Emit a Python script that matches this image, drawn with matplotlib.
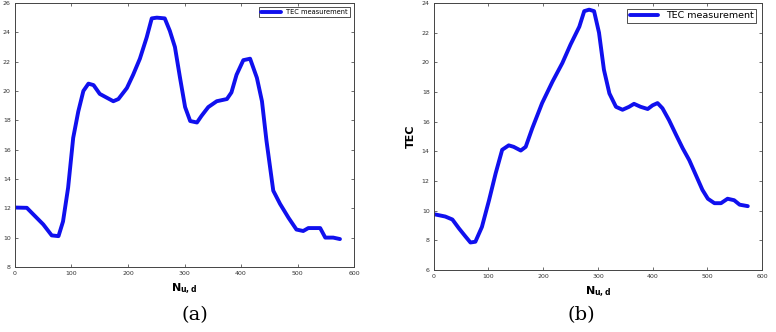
import numpy as np
import matplotlib.pyplot as plt

# (a) TEC curve
xa = [0, 21, 32, 50, 65, 77, 85, 94, 103, 112, 121, 130, 139, 150, 162, 174, 183, 198, 209, 221,
      233, 242, 251, 265, 274, 283, 292, 301, 310, 322, 330, 342, 357, 375, 383, 392, 404, 416,
      428, 437, 445, 457, 469, 484, 498, 510, 519, 540, 549, 563, 575]
ya = [12.05, 12.03, 11.6, 10.9, 10.15, 10.1, 11.1, 13.4, 16.8, 18.6, 20.0, 20.5, 20.4, 19.8, 19.55,
      19.3, 19.45, 20.2, 21.1, 22.2, 23.65, 24.95, 25.0, 24.95, 24.1, 23.0, 20.9, 18.9, 17.95, 17.85,
      18.3, 18.9, 19.3, 19.45, 19.9, 21.1, 22.1, 22.2, 20.9, 19.3, 16.6, 13.2, 12.3, 11.35, 10.55,
      10.45, 10.65, 10.65, 10.0, 10.0, 9.9]

# (b) TEC curve
xb = [0, 21, 34, 46, 58, 67, 76, 88, 101, 113, 125, 137, 146, 159, 168, 180, 198, 217, 235, 250,
      266, 275, 284, 293, 302, 311, 321, 333, 345, 357, 366, 378, 391, 400, 409, 418, 430, 443,
      455, 467, 479, 491, 501, 513, 525, 537, 549, 559, 574]
yb = [9.76, 9.6, 9.4, 8.8, 8.25, 7.85, 7.9, 8.9, 10.7, 12.5, 14.1, 14.4, 14.3, 14.05, 14.3, 15.55,
      17.25, 18.7, 19.95, 21.2, 22.4, 23.45, 23.55, 23.45, 22.0, 19.5, 17.9, 17.0, 16.8, 17.0, 17.2,
      17.0, 16.85, 17.1, 17.25, 16.9, 16.1, 15.1, 14.2, 13.4, 12.4, 11.4, 10.8, 10.5, 10.5, 10.8,
      10.7, 10.4, 10.3]

fig = plt.figure(figsize=(7.76, 3.32), dpi=100)
ax1 = fig.add_axes([0.0193, 0.196, 0.437, 0.795])
ax2 = fig.add_axes([0.559, 0.187, 0.423, 0.804])

def style(ax, ylo, yhi, legsize):
    ax.set_xlim(0, 600)
    ax.set_ylim(ylo, yhi)
    ax.set_xticks(np.arange(0, 601, 100))
    ax.set_yticks(np.arange(ylo, yhi + 1, 2))
    ax.tick_params(direction='in', labelsize=4.5, length=2.5, width=0.5,
                   top=True, right=True, colors='#333333', pad=3)
    for s in ax.spines.values():
        s.set_linewidth(0.7)
        s.set_color('#444444')
    ax.set_xlabel(r'$\mathbf{N_{u,d}}$', fontsize=8, labelpad=4)
    leg = ax.legend(loc='upper right', fontsize=legsize, fancybox=False, framealpha=1,
                    edgecolor='#333333', handlelength=3, borderpad=0.3, borderaxespad=0.6)
    leg.get_frame().set_linewidth(0.6)

ax1.plot(xa, ya, color='#1010ee', lw=2.8, label='TEC measurement',
         solid_joinstyle='round', solid_capstyle='round')
style(ax1, 8, 26, 4.8)

ax2.plot(xb, yb, color='#1010ee', lw=2.8, label='TEC measurement',
         solid_joinstyle='round', solid_capstyle='round')
style(ax2, 6, 24, 6.8)
ax2.set_ylabel('TEC', fontsize=8, fontweight='bold', labelpad=4)

fig.text(0.251, 0.05, '(a)', fontsize=14, family='DejaVu Serif', ha='center', va='center')
fig.text(0.749, 0.05, '(b)', fontsize=14, family='DejaVu Serif', ha='center', va='center')

fig.savefig('out.png', dpi=100)
